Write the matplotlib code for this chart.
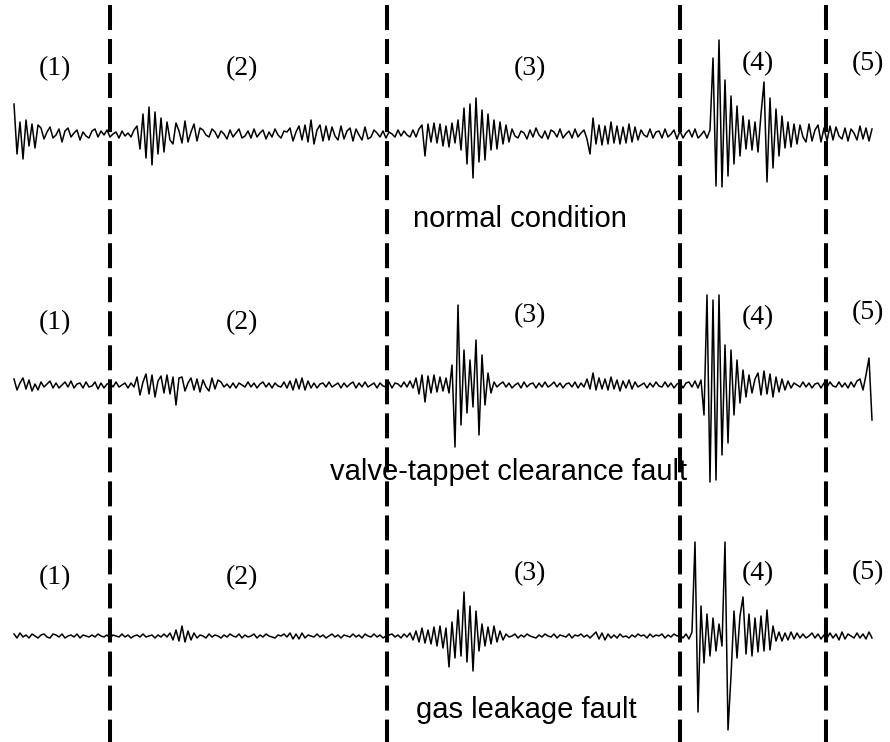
import numpy as np
import matplotlib.pyplot as plt

plt.rcParams['lines.scale_dashes'] = False

# vibration traces, amplitude (one value per sample)
normal = [30, -20, 12, -25, 14, -12, 10, -14, 9,
          6, -5, 2, 7, -4, -1, 5, -8, 3, 6, -3, 1, 4, -6, 2, -2, -4, 3, 5, -3,
          3, -1, 4, -3, 0, 2, -4, 3, -2, 1, -3, 4,
          8, -15, 20, -24, 27, -31, 22, -20, 16, -18,
          12, -6, -10, 11, 3, -9, 13, -8, 2, 10, -7, 6,
          4, -1, -3, 5, 2, -4, 3, 0, -5, 4, -3, 1, 5, -4, -2, 3, -4, 5, -3, 1,
          4, -5, 2, -3, 5, -1, -4, 3, 2,
          6, -7, 2, 8, -6, 9, -8, 14, -10, 4, 9, -7, 8, -6,
          7, -2, -6, 8, -5, 3, 6, -7, 5, -1, -6, 7, -5,
          -3, 4, 1, -3, 3, -4, 2, 0, -3, 4, -2, 3, -1, -3, 4, -3, 5,
          9, -22, 10, -8, 11, -9,
          10, -12, 8, -13, 11, -9,
          14, -16, 26, -30, 30, -44, 36, -28, 24, -26, 20,
          -16, 14, -15, 12, -10, 9, -8,
          5, -2, -4, 3, 1, -5, 4, -3, 6, -1, -4, 3, -5, 4, 2, -3, 5, -4, 0, 3,
          -4, 5, -3, 1, 4, -5,
          -20, 16, -10, 9, -11, 8, -10, 12, -9, 8, -10, 7, -9, 10, -8, 7, -6,
          4, -1, -3, 5, -4, 2, 3, -4, 5, -3, 0, 4, -5, 3, -4, 1, 4, -3, 5, -4,
          -1, 3, -4, 4,
          76, -52, 94, -53, 54, -42, 38,
          -30, 28, -22, 18, -15,
          14, -16, 12, -18, 20,
          52, -48, 36, -34, 25, -22,
          18, -14, 12, -13, 10,
          -10, 9, -3, -8, 10, -7, 4, 9, -8, 6, -7, 8,
          -6, 7, -2, -5, 6, -7, 5, 1, -6, 8, -5, 6, -7, 5]

valve_fault = [6, -5, 2, 7, -4, 5, -6, 1, -5,
               3, -2, 1, 4, -3, 2, -3, 0, 3, -2, 4, -3, 1, 2, -3, 3, -2, -1, 3, -4,
               2, -3, 1, 2, -2, 3, -2, 0, 2, -3, 2, -2,
               8, -10, 3, 11, -9, 10, -12, 4, 9, -8, 10, -9, 8, -20, 7,
               8, -6, 2, 7, -5, 6, -7, 5, -2, -6, 7, -4, 5,
               3, -2, 1, -3, 2, -3, 2, 0, -2, 3, -2, 2, -3, 1, 3, -2, 2, -3, 2, -1,
               -2, 3, -3,
               4, -5, 6, -4, 7, -5, 4, -3,
               2, -3, 1, 2, -2, 3, -2, 0, 2, -3, 2, -2, 1, 3, -3, 2, -2, 3, -2, 0,
               2, -3, 2, -1, -2, 3, -3, 2, 1, -2, 3, -2, 4, -3,
               7, -9, 10, -17, 9, -8, 10, -7,
               8, -6, 7, -8,
               20, -62, 80, -40, 35, -28, 25, -22, 45, -50,
               30, -20, 12, -8,
               3, -2, 1, 3, -2, 2, -3, 0, 2, -3, 3, -2, 1, 2, -3, 2, -2, 3, -2, 0,
               3, -2, 2, -3, 1, 2, -2, 3, -3, 2, -2,
               6, -4, 12, -5, 7, -4, 6, -5, 8, -4, 5, -6, 4, -3, 5, -4,
               3, -2, 0, 2, -3, 2, -2, 3, -1, -2, 3, -2, 2, -3, 1, 2, -3, 2,
               3, -2, 4, -3, 5, -30, 90, -97,
               85, -95, 90, -70, 40, -58, 35,
               -30, 25, -18, 15, -12, 10, -8, 6,
               12, -10, 14, -9, 11, -12, 8, -7, 6, -5, 4,
               -3, 2, 0, -2, 3, -2, 2, -3, 1, 2, -3, 2, -2, 3, -1, -2, 3, -2, 2, -3,
               3, -2, 4,
               6, -5, 10, 27, -35]

gas_fault = [2, -2, 3, -1, 1, -2, 2, 0, -2, 1, 2, -1, -2, 2, 1, -1, 2, -2, 0, 1,
             -1, 2, -2, 1, 0, -1,
             1, -1, 2, 0, -1, 1, -2, 1, 0, -1, 2, -1, 1, -2, 0, 1, -1, 2, -1, 0,
             1, -2, 1, -1, 2, -1, 3,
             -4, 6, -5, 10, -6, 5, -4, 3,
             -2, 1, 0, -2, 2, -1, 1, 0, -2, 1, -1, 2, 0, -1, 2, -2, 1, -1, 0, 2,
             -2, 1, -1, 2, 0, -1, -2, 1, 0, 2, -1,
             3, -3, 2, -3, 3,
             -2, 1, 0, -1, 2, -1, 1, -2, 0, 2, -1, 1, -2, 1, 0, -1, 2, -1, 1, -2,
             2, 0, -1, 2, -1, 1, -2, 0, 1, 2, -1, 1, -2, 2, -1,
             3, -4, 5, -6, 8, -7, 6, -8, 9, -10,
             10, -12, 8, -31,
             14, -22, 26, -20, 44, -26, 30, -35, 25, -15,
             12, -10, 9, -8, 10, -6, 5, -4,
             2, -1, 0, 2, -2, 1, -1, 2, 0, -1,
             -2, 1, -1, 2, 0, -1, 2, -2, 1, 0,
             -1, 2, -2, 1, 0, 2, -1, 1, -2, 1,
             4, -3, 3, -4, 2, -2, 1, -2, 2, -1,
             0, -2, 1, -1, 2, 0, 1, -2, 2, -1,
             1, 0, 2, -2, 1, -1, 2, 0, 1, -2,
             2, -3, 4, 94, -76,
             30, -27, 22, -20, 18, -15, 12,
             -10, 94, -94,
             -40, 25, -22, 20, 39, -18, 22, -20, 18, -16, 20, -15, 26, -14, 10,
             -5, 4, -5, 3, -4, 4, -3, 3, -2,
             2, -2, 0, 3, -2, 2, -3, 1, -2, 3, -2, 2, -4, 4, -3, 2, 0, -2, 3, -2,
             2, -3, 4, -2]

traces = [normal, valve_fault, gas_fault]
conditions = ['normal condition', 'valve-tappet clearance fault', 'gas leakage fault']
segment_labels = ['(1)', '(2)', '(3)', '(4)', '(5)']
boundaries = [32, 124.3, 222, 270.7]   # sample index of stroke boundaries

# layout (figure drawn in pixel-like units on y)
baselines = [134, 385, 636]
label_x = [13.7, 76, 172, 248, 284.7]
label_y = [[69, 69, 69, 64, 64],
           [323, 323, 316, 318, 313],
           [578, 578, 574, 574, 573]]
cond_x = [168.7, 165, 170.7]
cond_y = [227, 480, 718]

fig = plt.figure(figsize=(8.9, 7.42), dpi=100)
ax = fig.add_axes([0, 0, 1, 1])
ax.set_xlim(-14 / 3, 876 / 3)
ax.set_ylim(742, 0)
ax.axis('off')

for vals, base in zip(traces, baselines):
    t = np.arange(len(vals))
    ax.plot(t, base - np.array(vals), color='black', lw=1.1)

for b in boundaries:
    ax.plot([b, b], [5, 742], color='black', lw=2.9,
            linestyle=(0, (18, 6.5)), dash_capstyle='butt')

for row in range(3):
    for lab, lx, ly in zip(segment_labels, label_x, label_y[row]):
        ax.text(lx, ly, lab, family='Liberation Serif', fontsize=20,
                ha='center', va='center')
    ax.text(cond_x[row], cond_y[row], conditions[row],
            family='Liberation Sans', fontsize=21, ha='center', va='baseline')

fig.savefig('out.png', dpi=100)
